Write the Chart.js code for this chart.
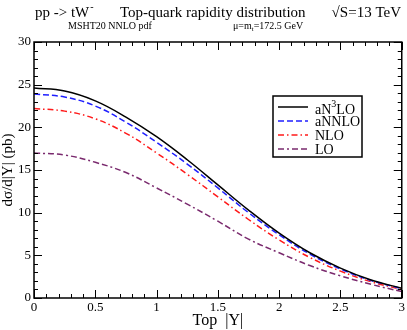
<!DOCTYPE html>
<html>
<head>
<meta charset="utf-8">
<script src="https://cdn.jsdelivr.net/npm/chart.js@4.4.1/dist/chart.umd.min.js"></script>
<style>
  html, body { margin: 0; padding: 0; background: #fff; }
  #wrap { width: 407px; height: 330px; position: relative; }
  #c { display: block; }
</style>
</head>
<body>
<div id="wrap"><canvas id="c" width="407" height="330"></canvas></div>
<script>
// values
const rapidity = [0, 0.25, 0.5, 0.75, 1.0, 1.25, 1.5, 1.75, 2.0, 2.25, 2.5, 2.75, 3.0];
const an3lo = [24.6, 24.25, 23.1, 21.2, 18.9, 16.2, 13.25, 10.3, 7.6, 5.3, 3.5, 2.1, 1.15];
const annlo = [23.9, 23.55, 22.5, 20.6, 18.25, 15.7, 12.9, 10.0, 7.4, 5.15, 3.4, 2.05, 1.1];
const nlo   = [22.2, 21.9, 21.0, 19.3, 17.0, 14.5, 11.85, 9.2, 6.8, 4.75, 3.15, 1.9, 1.0];
const lo    = [17.0, 16.75, 15.9, 14.7, 12.9, 11.0, 9.0, 6.9, 5.3, 3.8, 2.6, 1.6, 0.75];
const seriesNames = ['aN3LO', 'aNNLO', 'NLO', 'LO'];
const xTicks = [0, 0.5, 1, 1.5, 2, 2.5, 3];
const yTicks = [0, 5, 10, 15, 20, 25, 30];

const serif = '"Liberation Serif", "DejaVu Serif", serif';

function pts(vals) {
    return rapidity.map((x, i) => ({x: x, y: vals[i]}));
}

const styles = [
    {color: '#000000', dash: []},
    {color: '#1f1fff', dash: [6, 3]},
    {color: '#ff1a1a', dash: [6, 3, 1.5, 3]},
    {color: '#7a2a6e', dash: [6, 3, 2, 3, 6, 3]}
];
const allVals = [an3lo, annlo, nlo, lo];

// inward ticks on all four sides, frame, titles and legend
const decor = {
    id: 'decor',
    afterDraw(chart) {
        const ctx = chart.ctx;
        const a = chart.chartArea;
        const xs = chart.scales.x, ys = chart.scales.y;
        ctx.save();
        ctx.strokeStyle = '#000';
        ctx.lineWidth = 1.5;
        ctx.strokeRect(a.left, a.top, a.right - a.left, a.bottom - a.top);

        ctx.lineWidth = 1;
        ctx.beginPath();
        for (let k = 0; k <= 30; k++) {
            const v = k / 10;
            const px = Math.round(xs.getPixelForValue(v)) + 0.5;
            const len = (k % 5 === 0) ? 8 : 4;
            ctx.moveTo(px, a.bottom); ctx.lineTo(px, a.bottom - len);
            ctx.moveTo(px, a.top); ctx.lineTo(px, a.top + len);
        }
        for (let k = 0; k <= 30; k++) {
            const py = Math.round(ys.getPixelForValue(k)) + 0.5;
            const len = (k % 5 === 0) ? 8 : 4;
            ctx.moveTo(a.left, py); ctx.lineTo(a.left + len, py);
            ctx.moveTo(a.right, py); ctx.lineTo(a.right - len, py);
        }
        ctx.stroke();

        // titles
        ctx.fillStyle = '#000';
        ctx.textBaseline = 'alphabetic';
        ctx.textAlign = 'left';
        ctx.font = '15px ' + serif;
        ctx.fillText('pp -> tW', 35, 17);
        let w = ctx.measureText('pp -> tW').width;
        ctx.font = '10px ' + serif;
        ctx.fillText('-', 35 + w + 1, 10);
        ctx.font = '15px ' + serif;
        ctx.fillText('Top-quark rapidity distribution', 120, 17);
        ctx.textAlign = 'right';
        ctx.fillText('\u221AS=13 TeV', 401, 17);

        ctx.textAlign = 'left';
        ctx.font = '10px ' + serif;
        ctx.fillText('MSHT20 NNLO pdf', 68, 29);
        ctx.fillText('\u03BC=m', 233, 29);
        w = ctx.measureText('\u03BC=m').width;
        ctx.font = '7px ' + serif;
        ctx.fillText('t', 233 + w, 31);
        let w2 = ctx.measureText('t').width;
        ctx.font = '10px ' + serif;
        ctx.fillText('=172.5 GeV', 233 + w + w2, 29);

        // legend
        ctx.fillStyle = '#fff';
        ctx.fillRect(273, 96, 89, 61);
        ctx.strokeStyle = '#000';
        ctx.lineWidth = 1.5;
        ctx.strokeRect(273, 96, 89, 61);
        const rows = [107, 121, 135, 149];
        rows.forEach((y, i) => {
            ctx.beginPath();
            ctx.strokeStyle = styles[i].color;
            ctx.lineWidth = 1.5;
            ctx.setLineDash(styles[i].dash);
            ctx.moveTo(278, y); ctx.lineTo(308, y);
            ctx.stroke();
            ctx.setLineDash([]);
            ctx.fillStyle = '#000';
            ctx.font = '14px ' + serif;
            ctx.textBaseline = 'middle';
            if (i === 0) {
                ctx.fillText('aN', 315, y + 3);
                let wa = ctx.measureText('aN').width;
                ctx.font = '10px ' + serif;
                ctx.fillText('3', 315 + wa, y - 3);
                let w3 = ctx.measureText('3').width;
                ctx.font = '14px ' + serif;
                ctx.fillText('LO', 315 + wa + w3, y + 3);
            } else {
                ctx.fillText(seriesNames[i], 315, y + 1);
            }
        });
        ctx.restore();
    }
};

new Chart(document.getElementById('c'), {
    type: 'line',
    data: {
        datasets: allVals.map((vals, i) => ({
            label: seriesNames[i],
            data: pts(vals),
            borderColor: styles[i].color,
            borderDash: styles[i].dash,
            borderWidth: 1.5,
            pointRadius: 0,
            fill: false,
            tension: 0.4
        }))
    },
    options: {
        responsive: false,
        animation: false,
        devicePixelRatio: 1,
        layout: {padding: {top: 42, right: 5, left: 0, bottom: 0}},
        plugins: {legend: {display: false}, tooltip: {enabled: false}},
        scales: {
            x: {
                type: 'linear', min: 0, max: 3,
                afterBuildTicks: s => { s.ticks = xTicks.map(v => ({value: v})); },
                afterFit: s => { s.height = 32; },
                grid: {display: false, drawTicks: false},
                border: {display: false},
                ticks: {
                    padding: 2, color: '#000',
                    font: {family: serif, size: 13},
                    callback: v => String(v)
                },
                title: {display: true, text: 'Top  |Y|', color: '#000',
                        font: {family: serif, size: 16, lineHeight: 1.1}, padding: 0}
            },
            y: {
                type: 'linear', min: 0, max: 30,
                afterBuildTicks: s => { s.ticks = yTicks.map(v => ({value: v})); },
                afterFit: s => { s.width = 34; },
                grid: {display: false, drawTicks: false},
                border: {display: false},
                ticks: {
                    padding: 3, color: '#000',
                    font: {family: serif, size: 13},
                    callback: v => String(v)
                },
                title: {display: true, text: 'd\u03C3/d|Y| (pb)', color: '#000',
                        font: {family: serif, size: 15, lineHeight: 1.1}, padding: 0}
            }
        }
    },
    plugins: [decor]
});
</script>
</body>
</html>
